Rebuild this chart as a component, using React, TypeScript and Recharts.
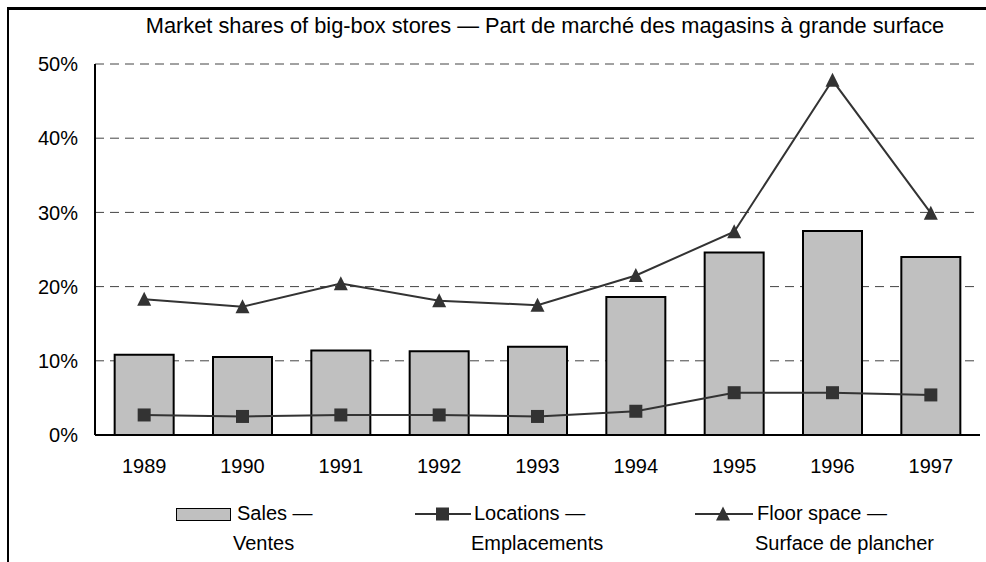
import React from 'react';
import {
  Bar,
  CartesianGrid,
  ComposedChart,
  Legend,
  Line,
  XAxis,
  YAxis,
} from 'recharts';

const years = ['1989', '1990', '1991', '1992', '1993', '1994', '1995', '1996', '1997'];
const sales = [10.8, 10.5, 11.4, 11.3, 11.9, 18.6, 24.6, 27.5, 24.0];
const locations = [2.7, 2.5, 2.7, 2.7, 2.5, 3.2, 5.7, 5.7, 5.4];
const floorSpace = [18.3, 17.3, 20.4, 18.1, 17.5, 21.5, 27.4, 47.8, 29.9];
const yTicks = [0, 10, 20, 30, 40, 50];

const FONT = '"Liberation Sans", Arial, sans-serif';
const INK = '#333333';

const data = years.map((year, i) => ({
  year,
  sales: sales[i],
  locations: locations[i],
  floorSpace: floorSpace[i],
}));

function SquareDot(props: any) {
  const { cx, cy } = props;
  if (cx == null || cy == null) return null;
  return <rect x={cx - 6.5} y={cy - 6.5} width={13} height={13} fill={INK} />;
}

function TriangleDot(props: any) {
  const { cx, cy } = props;
  if (cx == null || cy == null) return null;
  return (
    <polygon
      points={`${cx},${cy - 7.5} ${cx + 7},${cy + 6.5} ${cx - 7},${cy + 6.5}`}
      fill={INK}
    />
  );
}

const labelStyle: React.CSSProperties = {
  position: 'absolute',
  fontFamily: FONT,
  fontSize: 20,
  color: '#000',
  whiteSpace: 'nowrap',
  lineHeight: '22px',
};

function ChartLegend() {
  // positions are relative to the legend wrapper (top = 467)
  return (
    <div style={{ position: 'relative', width: 986, height: 95 }}>
      <div
        style={{
          position: 'absolute',
          left: 176,
          top: 41,
          width: 53,
          height: 11,
          background: '#c0c0c0',
          border: '1.5px solid #000',
        }}
      />
      <div style={{ ...labelStyle, left: 237, top: 35 }}>Sales —</div>
      <div style={{ ...labelStyle, left: 233, top: 65 }}>Ventes</div>

      <svg style={{ position: 'absolute', left: 415, top: 37 }} width={56} height={20}>
        <line x1={0} y1={10} x2={56} y2={10} stroke={INK} strokeWidth={2} />
        <rect x={21} y={3.5} width={13} height={13} fill={INK} />
      </svg>
      <div style={{ ...labelStyle, left: 474, top: 35 }}>Locations —</div>
      <div style={{ ...labelStyle, left: 471, top: 65 }}>Emplacements</div>

      <svg style={{ position: 'absolute', left: 695, top: 37 }} width={58} height={20}>
        <line x1={0} y1={10} x2={58} y2={10} stroke={INK} strokeWidth={2} />
        <polygon points="28,2.5 35,16.5 21,16.5" fill={INK} />
      </svg>
      <div style={{ ...labelStyle, left: 757, top: 35 }}>Floor space —</div>
      <div style={{ ...labelStyle, left: 755, top: 65 }}>Surface de plancher</div>
    </div>
  );
}

export default function App() {
  return (
    <div
      style={{
        position: 'absolute',
        left: 0,
        top: 0,
        width: 986,
        height: 562,
        background: '#fff',
        overflow: 'hidden',
      }}
    >
      <div
        style={{
          position: 'absolute',
          left: 7,
          top: 7,
          width: 1000,
          height: 600,
          borderTop: '3px solid #000',
          borderLeft: '2.5px solid #000',
          pointerEvents: 'none',
        }}
      />
      <div
        style={{
          position: 'absolute',
          left: 0,
          width: 1090,
          top: 13,
          textAlign: 'center',
          fontFamily: FONT,
          fontSize: 21.8,
          lineHeight: '25px',
          color: '#000',
          whiteSpace: 'nowrap',
        }}
      >
        Market shares of big-box stores — Part de marché des magasins à grande surface
      </div>
      <ComposedChart
        width={986}
        height={562}
        data={data}
        margin={{ top: 64, right: 6, left: 0, bottom: 0 }}
        barCategoryGap="20%"
      >
        <CartesianGrid
          horizontal
          vertical={false}
          stroke="#444"
          strokeDasharray="9 6"
          horizontalValues={[10, 20, 30, 40, 50]}
        />
        <XAxis
          dataKey="year"
          height={32}
          tickSize={0}
          tickMargin={24}
          tick={{ fontSize: 20, fontFamily: FONT, fill: '#000' }}
          axisLine={{ stroke: '#000', strokeWidth: 2 }}
          tickLine={false}
        />
        <YAxis
          width={95}
          domain={[0, 50]}
          ticks={yTicks}
          interval={0}
          tickSize={0}
          tickMargin={17}
          tickFormatter={(v) => `${v}%`}
          tick={{ fontSize: 20, fontFamily: FONT, fill: '#000' }}
          axisLine={{ stroke: '#000', strokeWidth: 2 }}
          tickLine={false}
        />
        <Legend
          verticalAlign="bottom"
          height={95}
          wrapperStyle={{ left: 0, width: 986, height: 95 }}
          content={() => <ChartLegend />}
        />
        <Bar
          dataKey="sales"
          fill="#c0c0c0"
          stroke="#000"
          strokeWidth={2}
          isAnimationActive={false}
        />
        <Line
          dataKey="locations"
          stroke={INK}
          strokeWidth={2}
          dot={<SquareDot />}
          activeDot={false}
          isAnimationActive={false}
        />
        <Line
          dataKey="floorSpace"
          stroke={INK}
          strokeWidth={2}
          dot={<TriangleDot />}
          activeDot={false}
          isAnimationActive={false}
        />
      </ComposedChart>
    </div>
  );
}
